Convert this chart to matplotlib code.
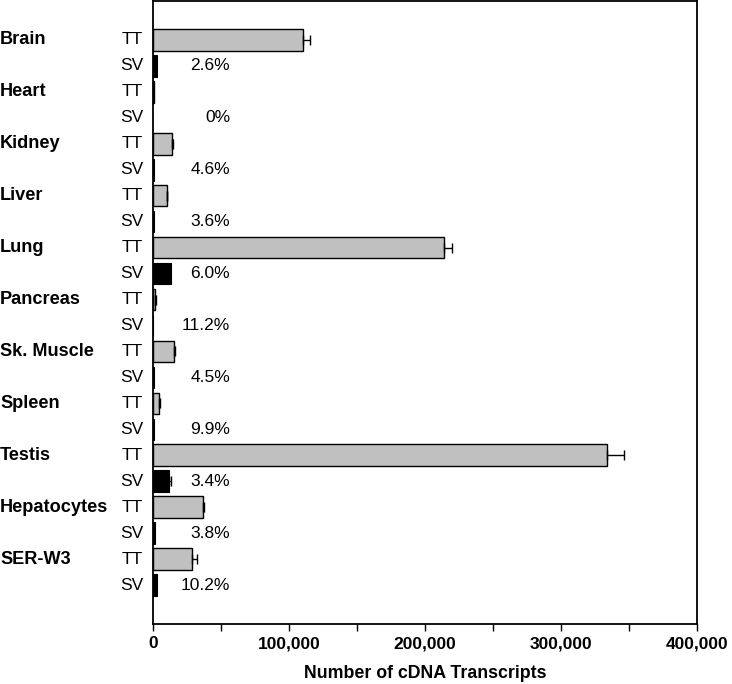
import matplotlib
matplotlib.use("Agg")
import matplotlib.pyplot as plt
from matplotlib.ticker import MultipleLocator, FuncFormatter
import matplotlib.transforms as mtransforms

plt.rcParams['font.family'] = ['Liberation Sans', 'DejaVu Sans']

tissues = ["Brain", "Heart", "Kidney", "Liver", "Lung", "Pancreas",
           "Sk. Muscle", "Spleen", "Testis", "Hepatocytes", "SER-W3"]
tt_values = [110500, 700, 14200, 10000, 214000, 1700, 15700, 4600, 334000, 36800, 28900]
tt_errors = [4900, 0, 300, 600, 5500, 300, 800, 500, 12500, 1000, 3700]
sv_values = [3200, 0, 650, 370, 13200, 190, 700, 460, 11800, 1400, 2900]
sv_errors = [0, 0, 0, 0, 0, 0, 0, 0, 1500, 0, 0]
pct_labels = ["2.6%", "0%", "4.6%", "3.6%", "6.0%", "11.2%", "4.5%", "9.9%", "3.4%", "3.8%", "10.2%"]
row_labels = ["TT", "SV"]
x_label = "Number of cDNA Transcripts"

fig = plt.figure(figsize=(7.32, 6.84), dpi=100)
ax = fig.add_axes([153/732, 1 - 624/684, 544/732, 623/684])

n = len(tissues)
tt_pos = [2*i for i in range(n)]
sv_pos = [2*i + 1 for i in range(n)]
bh = 0.83

ax.barh(tt_pos, tt_values, height=bh, color="#c0c0c0", edgecolor="black", linewidth=1.0, zorder=2)
ax.barh(sv_pos, sv_values, height=bh, color="black", edgecolor="black",
        linewidth=[0.8 if v > 0 else 0 for v in sv_values], zorder=2)

for p, v, e in zip(tt_pos, tt_values, tt_errors):
    if e > 0:
        ax.errorbar(v, p, xerr=[[0], [e]], fmt="none", ecolor="black", elinewidth=1.0,
                    capsize=3.6, capthick=1.0, zorder=3)
for p, v, e in zip(sv_pos, sv_values, sv_errors):
    if e > 0:
        ax.errorbar(v, p, xerr=[[0], [e]], fmt="none", ecolor="black", elinewidth=1.0,
                    capsize=3.6, capthick=1.0, zorder=3)

ax.set_ylim(2*n + 0.5, -1.5)
ax.set_xlim(0, 400000)
ax.set_yticks([])
ax.xaxis.set_major_locator(MultipleLocator(100000))
ax.xaxis.set_minor_locator(MultipleLocator(50000))
ax.xaxis.set_major_formatter(FuncFormatter(lambda x, p: f"{int(x):,}"))
ax.tick_params(axis="x", which="both", direction="out", length=5, width=1.0, pad=4)
for lbl in ax.get_xticklabels():
    lbl.set_fontweight("bold")
    lbl.set_fontsize(12.5)
for s in ax.spines.values():
    s.set_linewidth(1.3)

ax.set_xlabel(x_label, fontsize=12.8, fontweight="bold", labelpad=10)

trans = mtransforms.blended_transform_factory(ax.transAxes, ax.transData)
fs = 12.5
for i, t in enumerate(tissues):
    ax.text(-153/544, tt_pos[i], t, transform=trans, ha="left", va="center",
            fontsize=13.1, fontweight="bold", clip_on=False)
    ax.text(-10/544, tt_pos[i], row_labels[0], transform=trans, ha="right", va="center",
            fontsize=fs, clip_on=False)
    ax.text(-10/544, sv_pos[i], row_labels[1], transform=trans, ha="right", va="center",
            fontsize=fs, clip_on=False)
    ax.text(77/544, sv_pos[i], pct_labels[i], transform=trans, ha="right", va="center",
            fontsize=fs, clip_on=False, zorder=4)

fig.savefig("out.png", dpi=100)
